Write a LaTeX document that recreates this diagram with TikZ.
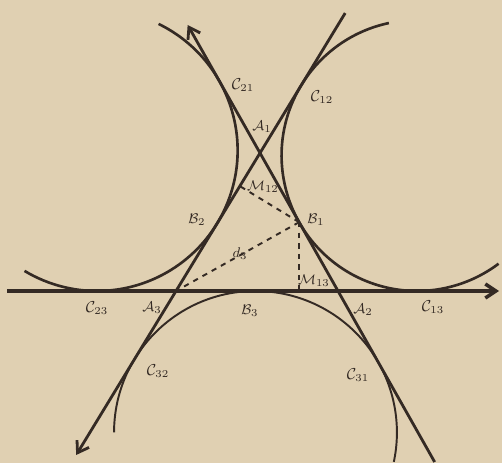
\documentclass[tikz,border=0pt]{standalone}
\usepackage{amsmath}
\usepackage{amssymb}
\usepackage[dvipsnames]{xcolor}
\usepackage{tikz}
\usetikzlibrary{calc,arrows.meta}
\definecolor{paper}{RGB}{224,208,178}
\definecolor{ink}{RGB}{52,42,36}

\tikzset{
    lbl/.style={inner sep=0.5pt, text=ink, font=\small},
    lblsm/.style={inner sep=0.5pt, text=ink, font=\footnotesize},
}

\begin{document}
\begin{tikzpicture}[x=0.02cm, y=0.02cm, >={Straight Barb[length=6pt,width=8pt]}]
        % Paper
        \fill[paper] (0,0) rectangle (502,463);
        \useasboundingbox (0,0) rectangle (502,463);

        % Triangle corners and circle centres
        \coordinate (A3) at (176,172);
        \coordinate (A2) at (338,172);
        \coordinate (A1) at (260,310);
        \coordinate (K2) at (96.96,312.64);
        \coordinate (K3) at (417.04,307.46);
        \coordinate (K1) at (255.48,30.57);
        \coordinate (B1) at ($(A2)!0.4986!(A1)$);
        \coordinate (M12) at ($(A3)!(B1)!(A1)$);
        \coordinate (M13) at ($(A3)!(B1)!(A2)$);

        % Ends of the three lines
        \coordinate (L1a) at ($(A1)!-0.9275!(A2)$);
        \coordinate (L1b) at ($(A1)!2.239!(A2)$);
        \coordinate (L2a) at ($(A3)!-1.188!(A1)$);
        \coordinate (L2b) at ($(A3)!2.014!(A1)$);
        \coordinate (L3a) at (7,172);
        \coordinate (L3b) at (499,172);

        % Circles (upper pair and lower one)
        \draw[ink, line width=1.5pt] ([shift={(64:140.64)}]K2) arc[start angle=64, end angle=-121, radius=140.64];
        \draw[ink, line width=1.5pt] ([shift={(102:135.46)}]K3) arc[start angle=102, end angle=307, radius=135.46];
        \draw[ink, line width=1.1pt] ([shift={(180:141.43)}]K1) arc[start angle=180, end angle=-12, radius=141.43];

        % Lines
        \draw[ink, line width=1.6pt, <-] (L1a) -- (L1b);
        \draw[ink, line width=1.6pt, <-] (L2a) -- (L2b);
        \draw[ink, line width=2pt, ->] (L3a) -- (L3b);

        % Dashed distances
        \draw[ink, line width=1.1pt, dash pattern=on 3pt off 3pt] (B1) -- (M12);
        \draw[ink, line width=1.1pt, dash pattern=on 3pt off 3pt] (B1) -- (M13);
        \draw[ink, line width=1.1pt, dash pattern=on 3pt off 3pt] (B1) -- (A3);

        % Labels
        \node[lbl] (tC21) at (243,378) {$\mathcal{C}_{21}$};
        \node[lbl] (tC12) at (322,366) {$\mathcal{C}_{12}$};
        \node[lblsm] (tA1) at (262,336) {$\mathcal{A}_{1}$};
        \node[lblsm] (tM12) at (263,276) {$\mathcal{M}_{12}$};
        \node[lblsm] (tB1) at (316,243) {$\mathcal{B}_{1}$};
        \node[lblsm] (tB2) at (197,243) {$\mathcal{B}_{2}$};
        \node[lblsm] (td) at (240,209) {$d_{3}$};
        \node[lblsm] (tM13) at (314,182) {$\mathcal{M}_{13}$};
        \node[lbl] (tC23) at (97,155) {$\mathcal{C}_{23}$};
        \node[lblsm] (tA3) at (152,155) {$\mathcal{A}_{3}$};
        \node[lblsm] (tB3) at (250,152) {$\mathcal{B}_{3}$};
        \node[lblsm] (tA2) at (363,153) {$\mathcal{A}_{2}$};
        \node[lbl] (tC13) at (433,156) {$\mathcal{C}_{13}$};
        \node[lbl] (tC32) at (158,92) {$\mathcal{C}_{32}$};
        \node[lbl] (tC31) at (358,88) {$\mathcal{C}_{31}$};
    \end{tikzpicture}
\end{document}
